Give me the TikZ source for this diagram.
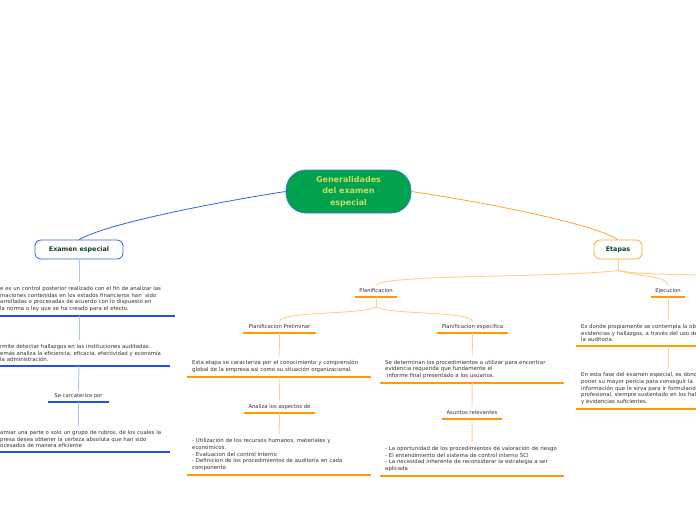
\documentclass[tikz,border=0pt]{standalone}
\usepackage{fontspec}
\setmainfont{DejaVu Sans}
\usetikzlibrary{positioning}

\definecolor{rootgreen}{HTML}{00A24F}
\definecolor{rootline}{HTML}{3C7DD9}
\definecolor{roottext}{HTML}{C9E05C}
\definecolor{titlegreen}{HTML}{123F32}
\definecolor{bodygray}{HTML}{333333}
\definecolor{mapblue}{HTML}{2F62F0}
\definecolor{lineblue}{HTML}{1E56EC}
\definecolor{paleblue}{HTML}{A9C4F7}
\definecolor{maporange}{HTML}{F9A825}
\definecolor{lineorange}{HTML}{FF9A00}
\definecolor{paleorange}{HTML}{FFCF87}

\tikzset{
  topic/.style={draw, fill=white, rounded corners=6pt, line width=0.8pt, minimum height=19pt,
    inner xsep=0pt, font=\fontsize{6.4}{7}\selectfont\bfseries, text=titlegreen},
  lbl/.style={anchor=south, inner xsep=0pt, inner ysep=3pt, text depth=1.2pt,
    font=\fontsize{5.3}{6}\selectfont, text=bodygray},
  txt/.style={anchor=south west, align=left, inner xsep=5pt, inner ysep=4pt,
    font=\fontsize{5.4}{6.7}\selectfont, text=bodygray},
}

\begin{document}
\begin{tikzpicture}[x=1pt, y=-1pt]
	\useasboundingbox (0,0) rectangle (696,520);
	\clip (0,0) rectangle (696,520);
	% central topic
	\node[draw=rootline, fill=rootgreen, rounded corners=20pt, line width=0.8pt, minimum width=125pt, minimum height=43pt,
	  align=center, font=\fontsize{8}{11.5}\selectfont\bfseries, text=roottext] (root) at (348.5,191.5) {Generalidades\\del examen\\especial};
	\node[topic, draw=mapblue, minimum width=88pt] (examen) at (79,249.5) {Examen especial};
	\node[topic, draw=maporange, minimum width=48pt] (etapas) at (618,249.5) {Etapas};
	\draw[mapblue, line width=0.8pt] (root.west) .. controls (230,200) and (110,222) .. (examen.north);
	\draw[maporange, line width=0.8pt] (root.east) .. controls (470,200) and (590,222) .. (etapas.north);

	% left branch
	\node[txt, text width=170pt] (defin) at (-5,316) {e es un control posterior realizado con el fin de analizar las\\maciones contenidas en los estados financieros han\ \ sido\\arrolladas o procesadas de acuerdo con lo dispuesto en\\la norma o ley que se ha creado para el efecto.};
	\node[txt, text width=165pt] (detect) at (-5,366) {rmite detectar hallazgos en las instituciones auditadas.\\emás analiza la eficiencia, eficacia, efectividad y economía\\la administración.};
	\node[lbl, minimum width=61pt] (carac) at (78.5,402) {Se carcateriza por};
	\node[txt, text width=165pt] (rubros) at (-5,452) {amiar una parte o solo un grupo de rubros, de los cuales la\\presa desea obtener la certeza absoluta que han sido\\ocesados de manera eficiente};
	\foreach \n in {defin,detect,carac,rubros}
		\draw[lineblue, line width=1.2pt] (\n.south west) -- (\n.south east);
	\draw[paleblue, line width=0.9pt] (examen.south) -- (examen.south |- defin.north);
	\draw[paleblue, line width=0.9pt] (examen.south |- defin.south) -- (examen.south |- detect.north);
	\draw[paleblue, line width=0.9pt] (examen.south |- detect.south) -- (carac.north);
	\draw[paleblue, line width=0.9pt] (carac.south) -- (carac.south |- rubros.north);

	% right branch
	\node[lbl, minimum width=42pt] (plan) at (376,297) {Planificacion};
	\node[lbl, minimum width=34pt] (ejec) at (668,297) {Ejecucion};
	\node[lbl, minimum width=73pt] (prelim) at (279.5,333) {Planificacion Preliminar};
	\node[lbl, minimum width=71pt] (especif) at (472.5,333) {Planificacion especifica};
	\node[txt, text width=174pt] (etapa) at (187,377) {Esta etapa se caracteriza por el conocimiento y comprensión\\global de la empresa asi como su situación organizacional.};
	\node[lbl, minimum width=71pt] (aspectos) at (279.5,413) {Analiza los aspectos de};
	\node[txt, text width=174pt] (recursos) at (187,475) {- Utilización de los recursos humanos, materiales y\\económicos.\\- Evaluacion del control interno\\- Definicion de los procedimientos de auditoría en cada\\componente};
	\node[txt, text width=174pt] (determ) at (380,383) {Se determinan los procedimientos a utilizar para encontrar\\evidencia requerida que fundamente el\\\ informe final presentado a los usuarios.};
	\node[lbl, minimum width=60pt] (asuntos) at (472,419) {Asuntos relevantes};
	\node[txt, text width=174pt] (riesgo) at (380,476) {- La oportunidad de los procedimientos de valoración de riesgo\\- El entendimiento del sistema de control interno SCI\\- La necesidad inherente de reconsiderar la estrategia a ser\\aplicada};
	\node[txt, text width=174pt] (obtiene) at (576,346) {Es donde propiamente se contempla la obtención de\\evidencias y hallazgos, a través del uso de\\la auditoria.};
	\node[txt, text width=174pt] (fase) at (576,409) {En esta fase del examen especial, es donde\\poner su mayor pericia para conseguir la\\información que le sirva para ir formulando\\profesional, siempre sustentado en los hallazgos\\y evidencias suficientes.};
	\foreach \n in {plan,ejec,prelim,especif,etapa,aspectos,recursos,determ,asuntos,riesgo,obtiene,fase}
		\draw[lineorange, line width=1.2pt] (\n.south west) -- (\n.south east);

	\coordinate (hub) at ([yshift=-11pt]etapas.south);
	\coordinate (hub2) at ([yshift=-10pt]plan.south);
	\coordinate (offright) at (700,275);
	\begin{scope}[paleorange, line width=0.9pt]
		\draw (etapas.south) -- (hub);
		\draw (hub) .. controls (560,278) and (382,274) .. (plan.north);
		\draw (hub) .. controls (640,277) and (668,276) .. (ejec.north);
		\draw (hub) .. controls (640,275) and (675,274) .. (offright);
		\draw (plan.south) -- (hub2);
		\draw (hub2) .. controls (360,315) and (282,311) .. (prelim.north);
		\draw (hub2) .. controls (392,315) and (470,311) .. (especif.north);
		\draw (prelim.south) -- (etapa.north);
		\draw (etapa.south) -- (aspectos.north);
		\draw (aspectos.south) -- (recursos.north);
		\draw (especif.south) -- (determ.north);
		\draw (determ.south) -- (asuntos.north);
		\draw (asuntos.south) -- (riesgo.north);
		\draw (ejec.south) -- (ejec.south |- obtiene.north);
		\draw (ejec.south |- obtiene.south) -- (ejec.south |- fase.north);
	\end{scope}
\end{tikzpicture}
\end{document}
